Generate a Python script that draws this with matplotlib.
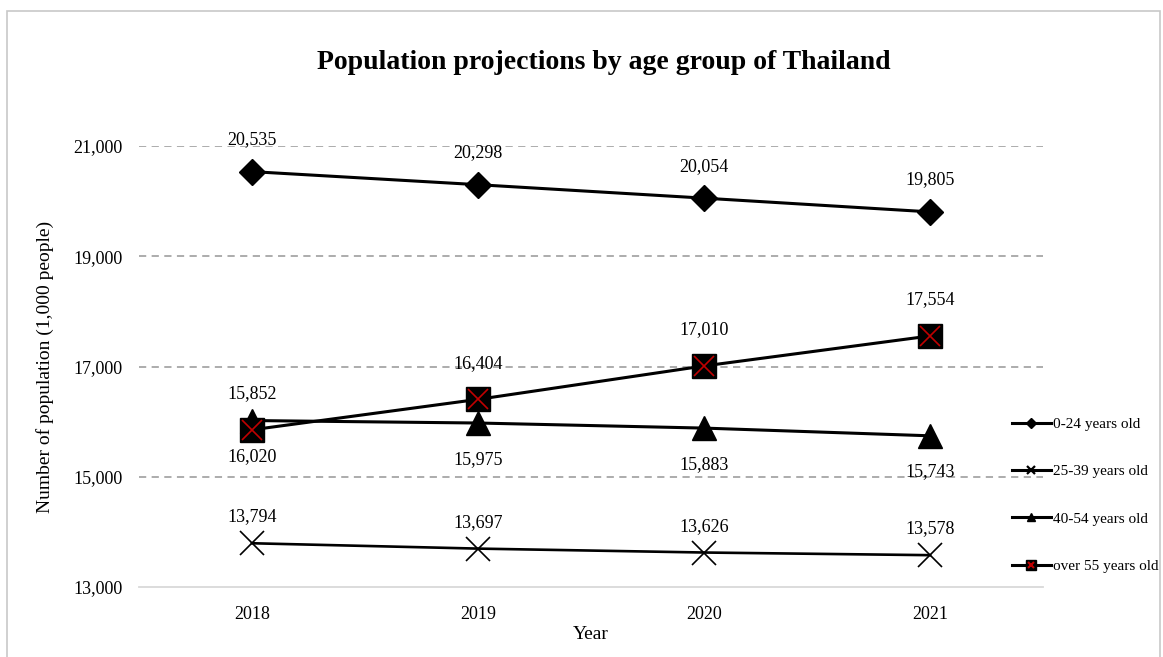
import numpy as np
import matplotlib
matplotlib.use("Agg")
import matplotlib.pyplot as plt
from matplotlib.legend_handler import HandlerTuple
from matplotlib.patches import Rectangle

years = ["2018", "2019", "2020", "2021"]
age_0_24 = [20535, 20298, 20054, 19805]
age_25_39 = [13794, 13697, 13626, 13578]
age_40_54 = [16020, 15975, 15883, 15743]
age_55_up = [15852, 16404, 17010, 17554]

plt.rcParams['font.family'] = ['Liberation Serif', 'DejaVu Serif']

fig = plt.figure(figsize=(11.63, 6.57), dpi=100)
ax = fig.add_axes([0.1195, 0.1065, 0.7773, 0.6713])

x = np.arange(len(years))

for y in [15000, 17000, 19000, 21000]:
    ax.axhline(y, color="#a6a6a6", lw=1.3, ls=(0, (4, 3)), zorder=0)

l1, = ax.plot(x, age_0_24, color="black", lw=2.2, marker="D", ms=13,
              clip_on=False, zorder=3)
l2, = ax.plot(x, age_25_39, color="black", lw=1.9, marker="x", ms=17,
              mew=1.2, clip_on=False, zorder=3)
l3, = ax.plot(x, age_40_54, color="black", lw=2.2, marker="^", ms=17,
              clip_on=False, zorder=3)
l4, = ax.plot(x, age_55_up, color="black", lw=2.2, marker="s", ms=17,
              clip_on=False, zorder=4)
l4x, = ax.plot(x, age_55_up, ls="none", marker="x", ms=15, mew=1.2,
               color="#c00000", clip_on=False, zorder=5)

lbl_kw = dict(ha="center", va="center", fontsize=13, textcoords="offset points")
for i in x:
    ax.annotate(f"{age_0_24[i]:,}", (i, age_0_24[i]), xytext=(0, 23), **lbl_kw)
    ax.annotate(f"{age_25_39[i]:,}", (i, age_25_39[i]), xytext=(0, 19), **lbl_kw)
    ax.annotate(f"{age_40_54[i]:,}", (i, age_40_54[i]), xytext=(0, -26), **lbl_kw)
    ax.annotate(f"{age_55_up[i]:,}", (i, age_55_up[i]), xytext=(0, 26), **lbl_kw)

ax.set_xlim(-0.5, 3.5)
ax.set_ylim(13000, 21000)
ax.set_xticks(x)
ax.set_xticklabels(years)
ax.set_yticks([13000, 15000, 17000, 19000, 21000])
ax.yaxis.set_major_formatter(matplotlib.ticker.FuncFormatter(lambda v, p: f"{int(v):,}"))
ax.tick_params(length=0, labelsize=13, pad=12)
ax.tick_params(axis="x", pad=14)
for s in ["top", "right", "left"]:
    ax.spines[s].set_visible(False)
ax.spines["bottom"].set_color("#d9d9d9")
ax.spines["bottom"].set_linewidth(1.3)

ax.set_xlabel("Year", fontsize=14, labelpad=2)
ax.set_ylabel("Number of population (1,000 people)", fontsize=14, labelpad=14)
fig.text(0.519, 0.905, "Population projections by age group of Thailand",
         ha="center", va="center", fontsize=20, fontweight="bold")

# small legend handles
h1 = plt.Line2D([], [], color="black", lw=2.2, marker="D", ms=5)
h2 = plt.Line2D([], [], color="black", lw=2.2, marker="x", ms=6, mew=1.6)
h3 = plt.Line2D([], [], color="black", lw=2.2, marker="^", ms=6)
h4s = plt.Line2D([], [], color="black", lw=2.2, marker="s", ms=7)
h4x = plt.Line2D([], [], ls="none", color="#c00000", marker="x", ms=5, mew=1.5)
leg = fig.legend([h1, h2, h3, (h4s, h4x)],
                 ["0-24 years old", "25-39 years old", "40-54 years old", "over 55 years old"],
                 handler_map={tuple: HandlerTuple(ndivide=1, pad=0)},
                 loc="center left", bbox_to_anchor=(0.858, 0.2465), frameon=False,
                 fontsize=11, handlelength=2.6, handletextpad=0.1,
                 labelspacing=2.2)

fig.patches.append(Rectangle((0.006, -0.01), 0.991, 0.993, transform=fig.transFigure,
                             fill=False, edgecolor="#c8c8c8", lw=1.2))

fig.savefig("out.png", dpi=100)
